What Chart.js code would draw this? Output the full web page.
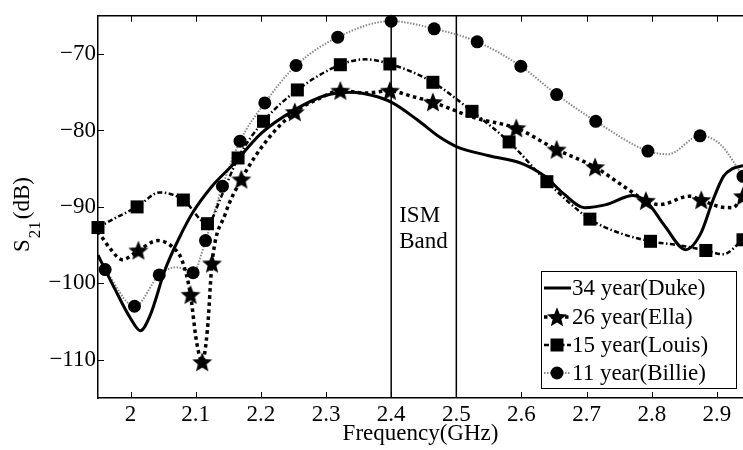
<!DOCTYPE html>
<html><head><meta charset="utf-8">
<script src="https://cdn.jsdelivr.net/npm/chart.js@4"></script>
<style>html,body{margin:0;padding:0;background:#fff}</style>
</head><body>
<canvas id="c" width="743" height="450"></canvas>
<script>
// ---- data ----
const xTicks = [2, 2.1, 2.2, 2.3, 2.4, 2.5, 2.6, 2.7, 2.8, 2.9];
const xTickLabels = ['2', '2.1', '2.2', '2.3', '2.4', '2.5', '2.6', '2.7', '2.8', '2.9'];
const yTicks = [-110, -100, -90, -80, -70];
const yTickLabels = ['\u2212110', '\u2212100', '\u221290', '\u221280', '\u221270'];
const seriesNames = ['34 year(Duke)', '26 year(Ella)', '15 year(Louis)', '11 year(Billie)'];

const dukeX = [1.95, 1.975, 2.0, 2.015, 2.03, 2.053, 2.075, 2.095, 2.125, 2.158, 2.2, 2.25, 2.3, 2.34, 2.37, 2.4, 2.44, 2.475, 2.5, 2.55, 2.6, 2.636, 2.665, 2.697, 2.73, 2.771, 2.794, 2.82, 2.852, 2.875, 2.894, 2.91, 2.924, 2.94];
const dukeY = [-96.3, -100.6, -104.6, -106.2, -104.2, -98.2, -94.0, -90.8, -87.3, -84.4, -80.4, -77.4, -75.4, -75.0, -75.4, -76.3, -78.6, -80.9, -82.1, -83.3, -84.3, -86.0, -88.3, -90.1, -89.7, -88.5, -89.5, -92.5, -95.6, -93.5, -89.1, -86.0, -85.0, -84.6];

const ellaX = [1.95, 1.97, 1.987, 2.012, 2.042, 2.065, 2.079, 2.092, 2.101, 2.110, 2.118, 2.125, 2.145, 2.170, 2.21, 2.252, 2.29, 2.322, 2.36, 2.398, 2.43, 2.464, 2.53, 2.592, 2.654, 2.713, 2.755, 2.791, 2.812, 2.858, 2.876, 2.905, 2.924, 2.94];
const ellaY = [-93.2, -95.6, -96.9, -95.7, -94.4, -95.3, -97.0, -101.5, -107.5, -110.3, -106.0, -97.4, -91.0, -86.4, -81.2, -77.6, -75.8, -74.8, -75.1, -74.8, -75.5, -76.3, -78.4, -79.7, -82.5, -84.8, -87.2, -89.2, -89.7, -88.6, -89.1, -90.0, -90.1, -88.6];
const ellaMarker = [0, 0, 0, 1, 0, 0, 0, 1, 0, 1, 0, 1, 0, 1, 0, 1, 0, 1, 0, 1, 0, 1, 0, 1, 1, 1, 0, 1, 0, 0, 1, 0, 0, 1];

const louisX = [1.95, 1.98, 2.01, 2.045, 2.081, 2.118, 2.14, 2.165, 2.204, 2.256, 2.322, 2.36, 2.398, 2.464, 2.524, 2.581, 2.639, 2.705, 2.75, 2.798, 2.84, 2.883, 2.909, 2.94];
const louisY = [-92.7, -91.3, -90.0, -88.1, -89.1, -92.2, -88.5, -83.6, -78.8, -74.7, -71.4, -70.7, -71.3, -73.7, -77.5, -81.5, -86.7, -91.6, -93.4, -94.5, -95.0, -95.7, -96.2, -94.3];
const louisMarker = [1, 0, 1, 0, 1, 1, 0, 1, 1, 1, 1, 0, 1, 1, 1, 1, 1, 1, 0, 1, 0, 1, 0, 1];

const billieX = [1.961, 2.006, 2.044, 2.07, 2.096, 2.115, 2.141, 2.168, 2.206, 2.254, 2.318, 2.400, 2.466, 2.532, 2.599, 2.654, 2.714, 2.794, 2.825, 2.874, 2.905, 2.94];
const billieY = [-98.2, -103.0, -98.9, -97.9, -98.6, -94.4, -87.3, -81.4, -76.4, -71.5, -67.8, -65.7, -66.7, -68.4, -71.6, -75.3, -78.8, -82.7, -83.1, -80.7, -81.8, -86.0];
const billieMarker = [1, 1, 1, 0, 1, 1, 1, 1, 1, 1, 1, 1, 1, 1, 1, 1, 1, 1, 0, 1, 0, 1];

const ismBand = [2.4, 2.5];
const ismLabel = ['ISM', 'Band'];
const ismLabelY = [-91.2, -94.6];

// ---- helpers ----
const FONT = "'Liberation Serif','Times New Roman',serif";
const pts = (xs, ys) => xs.map((v, i) => ({x: v, y: ys[i]}));

const starImg = document.createElement('canvas');
starImg.width = 22; starImg.height = 22;
(function(){
  const c = starImg.getContext('2d');
  c.beginPath();
  for (let i = 0; i < 10; i++) {
    const r = i % 2 === 0 ? 10.5 : 4.6;
    const a = -Math.PI / 2 + i * Math.PI / 5;
    const px = 11 + r * Math.cos(a), py = 11.8 + r * Math.sin(a);
    i === 0 ? c.moveTo(px, py) : c.lineTo(px, py);
  }
  c.closePath(); c.fillStyle = '#000'; c.fill();
})();

const styles = [
  {color: '#000', width: 3, dash: [], point: false},
  {color: '#000', width: 3.5, dash: [3.5, 3.5], point: starImg},
  {color: '#000', width: 2.5, dash: [5, 2.5, 1.5, 2.5], point: 'rect'},
  {color: '#8a8a8a', width: 2, dash: [1.5, 1.5], point: 'circle'}
];

const datasets = [
  {label: seriesNames[0], data: pts(dukeX, dukeY), borderColor: styles[0].color, borderWidth: styles[0].width, pointRadius: 0},
  {label: seriesNames[1], data: pts(ellaX, ellaY), borderColor: styles[1].color, borderWidth: styles[1].width, borderDash: styles[1].dash,
    pointStyle: starImg, pointRadius: ctx => ellaMarker[ctx.dataIndex] ? 8 : 0},
  {label: seriesNames[2], data: pts(louisX, louisY), borderColor: styles[2].color, borderWidth: styles[2].width, borderDash: styles[2].dash,
    pointStyle: 'rect', pointRadius: ctx => louisMarker[ctx.dataIndex] ? 9.2 : 0, pointBackgroundColor: '#000', pointBorderColor: '#000', pointBorderWidth: 0},
  {label: seriesNames[3], data: pts(billieX, billieY), borderColor: styles[3].color, borderWidth: styles[3].width, borderDash: styles[3].dash,
    pointStyle: 'circle', pointRadius: ctx => billieMarker[ctx.dataIndex] ? 6.5 : 0, pointBackgroundColor: '#000', pointBorderColor: '#000', pointBorderWidth: 0},
  ...ismBand.map(v => ({label: 'ISM', data: [{x: v, y: -115}, {x: v, y: -65}], borderColor: '#000', borderWidth: 1.5, pointRadius: 0}))
];
datasets.forEach(d => { d.fill = false; d.cubicInterpolationMode = 'monotone'; d.clip = false; });
datasets[0].clip = 0; datasets[1].clip = {left: 0, right: 0, top: 10, bottom: 0};

const deco = {
  id: 'deco',
  afterDraw(chart) {
    const {ctx, chartArea: a, scales: {x, y}} = chart;
    ctx.save();
    ctx.strokeStyle = '#000';
    ctx.lineWidth = 1.5;
    ctx.setLineDash([]);
    ctx.beginPath(); ctx.moveTo(a.left - 0.75, a.top); ctx.lineTo(a.right, a.top); ctx.stroke();
    ctx.lineWidth = 1;
    xTicks.forEach(v => {
      const px = Math.round(x.getPixelForValue(v)) + 0.5;
      ctx.beginPath();
      ctx.moveTo(px, a.top); ctx.lineTo(px, a.top + 6);
      ctx.moveTo(px, a.bottom); ctx.lineTo(px, a.bottom - 6);
      ctx.stroke();
    });
    yTicks.forEach(v => {
      const py = Math.round(y.getPixelForValue(v)) + 0.5;
      ctx.beginPath(); ctx.moveTo(a.left, py); ctx.lineTo(a.left + 6, py); ctx.stroke();
    });
    // ISM band text
    ctx.fillStyle = '#000';
    ctx.font = '23px ' + FONT;
    ctx.textAlign = 'left'; ctx.textBaseline = 'middle';
    ismLabel.forEach((t, i) => ctx.fillText(t, x.getPixelForValue(ismBand[0]) + 8, y.getPixelForValue(ismLabelY[i])));
    // x title
    ctx.textAlign = 'center';
    ctx.fillText('Frequency(GHz)', (a.left + a.right) / 2, 434);
    // y title with subscript
    ctx.save();
    ctx.translate(29, 252);
    ctx.rotate(-Math.PI / 2);
    ctx.textAlign = 'left'; ctx.textBaseline = 'alphabetic';
    ctx.font = '23px ' + FONT;
    ctx.fillText('S', 0, 0);
    let w = ctx.measureText('S').width + 1;
    ctx.font = '17px ' + FONT;
    ctx.fillText('21', w, 11);
    w += ctx.measureText('21').width + 2;
    ctx.font = '23px ' + FONT;
    ctx.fillText('(dB)', w, 0);
    ctx.restore();
    // legend
    const L = {x: 541, y: 271, w: 195, h: 117};
    ctx.fillStyle = '#fff';
    ctx.fillRect(L.x, L.y, L.w, L.h);
    ctx.strokeStyle = '#000'; ctx.lineWidth = 1;
    ctx.strokeRect(L.x + 0.5, L.y + 0.5, L.w, L.h);
    const rows = [288, 317, 345, 373];
    seriesNames.forEach((name, i) => {
      const s = styles[i], ry = rows[i];
      ctx.strokeStyle = s.color; ctx.lineWidth = s.width; ctx.setLineDash(s.dash);
      ctx.beginPath(); ctx.moveTo(544, ry); ctx.lineTo(571, ry); ctx.stroke();
      ctx.setLineDash([]);
      ctx.fillStyle = '#000';
      if (s.point === 'rect') ctx.fillRect(557 - 6.5, ry - 6.5, 13, 13);
      else if (s.point === 'circle') { ctx.beginPath(); ctx.arc(557, ry, 6.5, 0, Math.PI * 2); ctx.fill(); }
      else if (s.point) ctx.drawImage(s.point, 546, ry - 11);
      ctx.font = '23px ' + FONT; ctx.textAlign = 'left'; ctx.textBaseline = 'middle';
      ctx.fillText(name, 572, ry + 1);
    });
    ctx.restore();
  }
};

new Chart(document.getElementById('c'), {
  type: 'line',
  data: {datasets},
  options: {
    responsive: false,
    animation: false,
    devicePixelRatio: 1,
    layout: {autoPadding: false, padding: {top: 9, right: 0, left: 0, bottom: 0}},
    plugins: {legend: {display: false}, tooltip: {enabled: false}},
    scales: {
      x: {
        type: 'linear', position: 'bottom', min: 1.95, max: 2.94,
        afterFit: s => { s.height = 52; },
        afterBuildTicks: s => { s.ticks = xTicks.map(v => ({value: v})); },
        grid: {display: false, drawTicks: false, tickLength: 0},
        border: {display: true, color: '#000', width: 1.5},
        ticks: {font: {family: FONT, size: 23}, color: '#000', padding: 3, maxRotation: 0, autoSkip: false,
          callback: (v) => { const i = xTicks.findIndex(t => Math.abs(t - v) < 1e-9); return i >= 0 ? xTickLabels[i] : ''; }}
      },
      y: {
        type: 'linear', position: 'left', min: -115, max: -65,
        afterFit: s => { s.width = 98; },
        afterBuildTicks: s => { s.ticks = yTicks.map(v => ({value: v})); },
        grid: {display: false, drawTicks: false, tickLength: 0},
        border: {display: true, color: '#000', width: 1.5},
        ticks: {font: {family: FONT, size: 23}, color: '#000', padding: 2, autoSkip: false,
          callback: (v) => { const i = yTicks.findIndex(t => Math.abs(t - v) < 1e-9); return i >= 0 ? yTickLabels[i] : ''; }}
      }
    }
  },
  plugins: [deco]
});
</script>
</body></html>
